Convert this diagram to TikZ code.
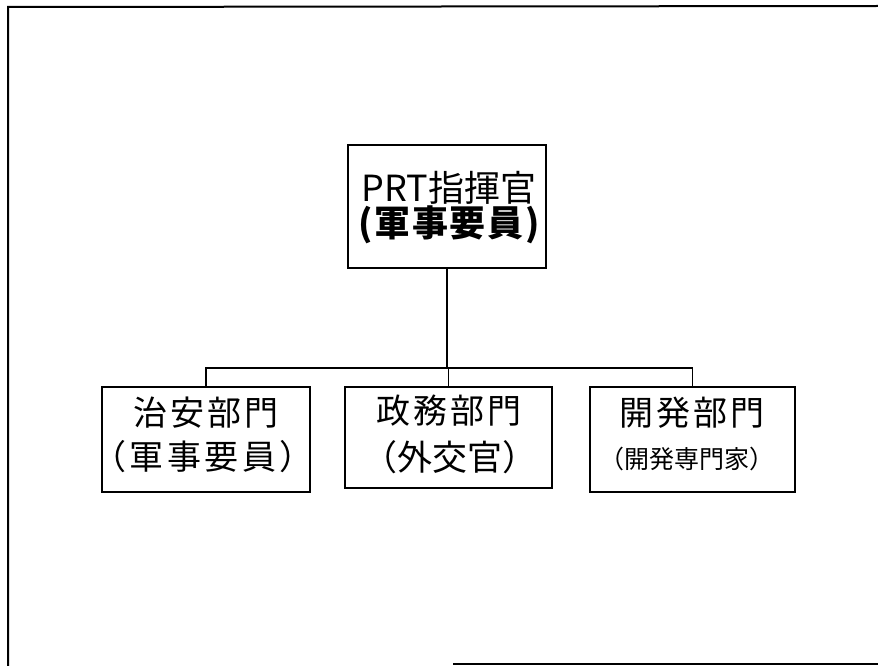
\documentclass[tikz,border=0pt]{standalone}
\usepackage{fontspec}
\setmainfont{Noto Sans CJK JP}
\newfontfamily\jpsp[LetterSpace=8]{Noto Sans CJK JP}
\newfontfamily\jpspw[LetterSpace=10]{Noto Sans CJK JP}
\newfontfamily\jpspb[LetterSpace=5]{Noto Sans CJK JP}
\begin{document}
\begin{tikzpicture}[x=1pt,y=-1pt,
  box/.style={draw,line width=1.6pt,inner sep=0pt,anchor=center},
  conn/.style={line width=1.3pt},
  frame/.style={line width=2pt},
  txt/.style={inner sep=0pt,anchor=center}]
\useasboundingbox (0,0) rectangle (878,666);
\fill[white] (0,0) rectangle (878,666);
% outer frame (partly lost in the scan)
\draw[frame] (8,666) -- (8,7) -- (878,6);
\draw[frame] (453,664) -- (878,664);

% boxes
\node[box,minimum width=198pt,minimum height=123pt] (top) at (447,206.5) {};
\node[box,minimum width=208pt,minimum height=105pt] (left) at (206,439.5) {};
\node[box,minimum width=207pt,minimum height=101pt] (mid) at (448.5,437.5) {};
\node[box,minimum width=205pt,minimum height=105pt] (right) at (692.5,439.5) {};

% texts
\node[txt] (topa) at (449,188) {\fontsize{36}{38}\selectfont PRT指揮官};
\node[txt] (topb) at (449,225) {\fontsize{36}{38}\selectfont\jpspb\bfseries (軍事要員)};
\node[txt] (lefta) at (206,413) {\fontsize{34}{36}\selectfont\jpsp 治安部門};
\node[txt] (leftb) at (203,457) {\fontsize{34}{36}\selectfont\jpspw （軍事要員）};
\node[txt] (mida) at (449,411) {\fontsize{34}{36}\selectfont\jpsp 政務部門};
\node[txt] (midb) at (450,457) {\fontsize{35}{37}\selectfont （外交官）};
\node[txt] (righta) at (692,413) {\fontsize{34}{36}\selectfont\jpsp 開発部門};
\node[txt] (rightb) at (687,459) {\fontsize{25}{27}\selectfont （開発専門家）};

% connectors
\coordinate (bus) at (0,368);
\draw[conn] (top.south) -- (top.south |- bus);
\draw[conn] (left.north) -- (left.north |- bus) -- (right.north |- bus) -- (right.north);
\draw[conn] (mid.north) -- (mid.north |- bus);
\end{tikzpicture}
\end{document}
